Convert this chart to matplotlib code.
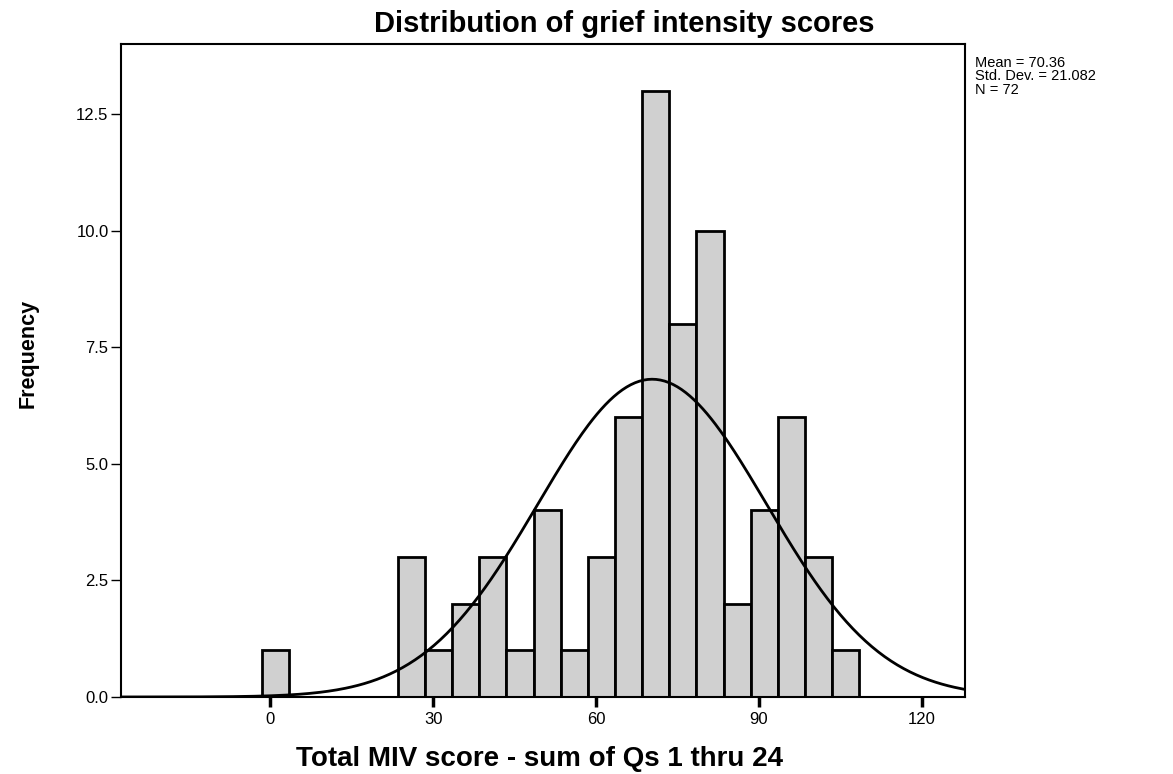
import numpy as np
import matplotlib.pyplot as plt

plt.rcParams['font.family'] = ['Liberation Sans', 'DejaVu Sans']

# histogram bins (width 5) and counts
bin_left = [-1.5, 23.5, 28.5, 33.5, 38.5, 43.5, 48.5, 53.5, 58.5,
            63.5, 68.5, 73.5, 78.5, 83.5, 88.5, 93.5, 98.5, 103.5]
counts = [1, 3, 1, 2, 3, 1, 4, 1, 3, 6, 13, 8, 10, 2, 4, 6, 3, 1]
bin_width = 5

mean_val = 70.36
sd_val = 21.082
n_val = 72

x_ticks = [0, 30, 60, 90, 120]
y_ticks = [0.0, 2.5, 5.0, 7.5, 10.0, 12.5]

fig = plt.figure(figsize=(11.73, 7.74), dpi=100)
ax = fig.add_axes([0.1032, 0.0995, 0.7195, 0.8437])

ax.bar(bin_left, counts, width=bin_width, align='edge',
       color='#d0d0d0', edgecolor='black', linewidth=2, zorder=2)

# normal curve scaled to counts
xs = np.linspace(-27.5, 128, 400)
ys = n_val * bin_width / (sd_val * np.sqrt(2 * np.pi)) * np.exp(-0.5 * ((xs - mean_val) / sd_val) ** 2)
ax.plot(xs, ys, color='black', linewidth=2, zorder=3)

ax.set_xlim(-27.5, 128)
ax.set_ylim(0, 14)
ax.set_xticks(x_ticks)
ax.set_yticks(y_ticks)
ax.set_yticklabels(['%.1f' % v for v in y_ticks])
ax.tick_params(axis='x', length=7, width=2.5, labelsize=12, pad=4)
ax.tick_params(axis='y', length=7, width=1, labelsize=12, pad=2)
for s in ax.spines.values():
    s.set_linewidth(1.5)

fig.text(0.532, 0.9587, 'Distribution of grief intensity scores', fontsize=21,
         fontweight='bold', ha='center', va='baseline')
fig.text(0.460, 0.0103, 'Total MIV score - sum of Qs 1 thru 24', fontsize=20,
         fontweight='bold', ha='center', va='baseline')
fig.text(0.024, 0.543, 'Frequency', fontsize=15.5, fontweight='bold', rotation=90,
         ha='center', va='center')

fig.text(0.831, 0.928, 'Mean = %.2f\nStd. Dev. = %.3f\nN = %d' % (mean_val, sd_val, n_val),
         fontsize=10.5, va='top', ha='left', linespacing=0.95)

fig.savefig('out.png', dpi=100)
